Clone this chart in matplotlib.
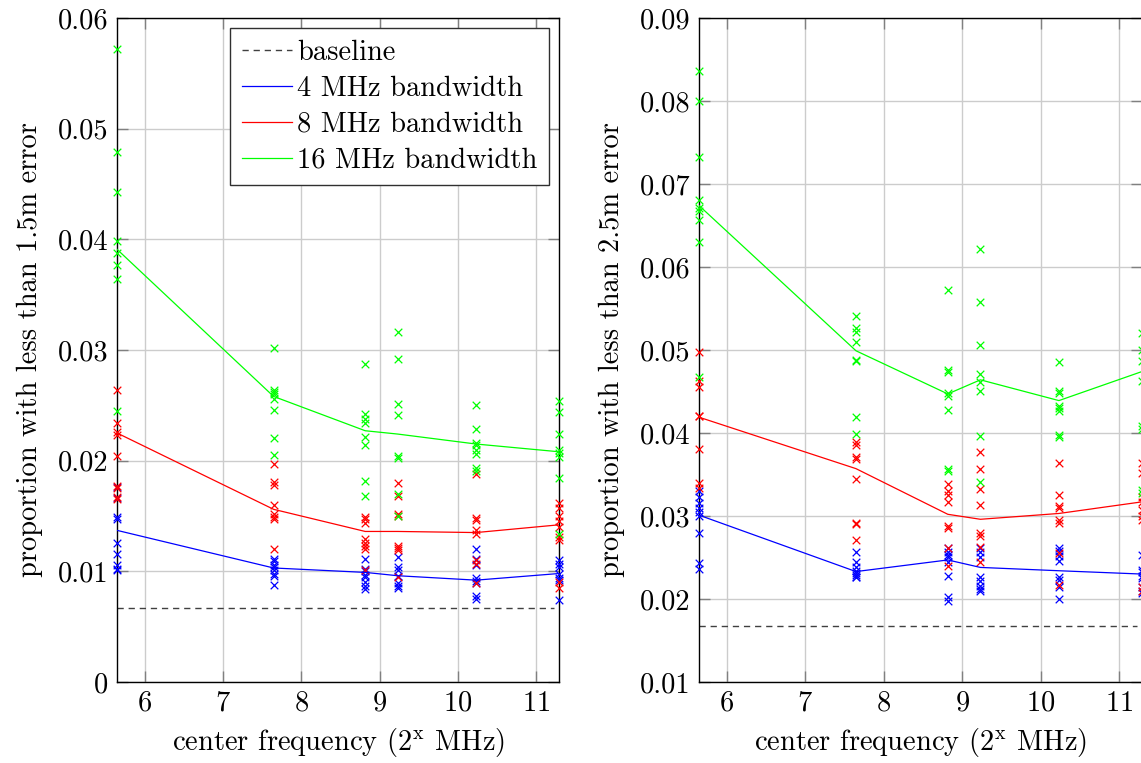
import matplotlib
matplotlib.use('Agg')
import matplotlib.pyplot as plt
import numpy as np

# ---------- fonts (Computer Modern look) ----------
plt.rcParams['font.family'] = 'cmr10'
plt.rcParams['mathtext.fontset'] = 'cm'
plt.rcParams['axes.formatter.use_mathtext'] = True

# ---------- data ----------
freqs_mhz = [50, 200, 450, 600, 1200, 2500]
x_pos = np.log2(freqs_mhz)
baseline_end = 11.23

# left panel: proportion with < 1.5 m error
base_15 = 0.0067
line_4_15 = [0.0137, 0.0103, 0.0099, 0.0096, 0.0092, 0.0098]
line_8_15 = [0.0225, 0.0156, 0.0136, 0.0136, 0.0135, 0.0142]
line_16_15 = [0.0391, 0.0258, 0.0227, 0.0224, 0.0215, 0.0208]
pts_4_15 = [
    [0.0176, 0.0166, 0.0149, 0.0147, 0.0126, 0.0116, 0.0106, 0.0102, 0.0101],
    [0.0111, 0.0109, 0.0106, 0.0104, 0.0101, 0.0098, 0.0096, 0.0088],
    [0.0111, 0.0102, 0.0100, 0.0097, 0.0095, 0.0090, 0.0087, 0.0084],
    [0.0113, 0.0104, 0.0101, 0.0096, 0.0089, 0.0087, 0.0085],
    [0.0120, 0.0111, 0.0106, 0.0094, 0.0091, 0.0089, 0.0078, 0.0075],
    [0.0110, 0.0107, 0.0104, 0.0098, 0.0094, 0.0092, 0.0074],
]
pts_8_15 = [
    [0.0264, 0.0234, 0.0226, 0.0223, 0.0204, 0.0177, 0.0175, 0.0167, 0.0165],
    [0.0197, 0.0181, 0.0178, 0.0160, 0.0152, 0.0149, 0.0147, 0.0120],
    [0.0149, 0.0147, 0.0144, 0.0129, 0.0126, 0.0123, 0.0120, 0.0101],
    [0.0180, 0.0168, 0.0152, 0.0150, 0.0123, 0.0121, 0.0119, 0.0095],
    [0.0188, 0.0148, 0.0146, 0.0137, 0.0134, 0.0110, 0.0107, 0.0089],
    [0.0162, 0.0157, 0.0150, 0.0145, 0.0140, 0.0131, 0.0128, 0.0090, 0.0085],
]
pts_16_15 = [
    [0.0572, 0.0479, 0.0443, 0.0398, 0.0388, 0.0377, 0.0364, 0.0245],
    [0.0302, 0.0264, 0.0262, 0.0260, 0.0256, 0.0246, 0.0220, 0.0205],
    [0.0287, 0.0242, 0.0238, 0.0234, 0.0221, 0.0214, 0.0182, 0.0168],
    [0.0316, 0.0292, 0.0251, 0.0241, 0.0204, 0.0202, 0.0170, 0.0150],
    [0.0250, 0.0229, 0.0216, 0.0214, 0.0210, 0.0206, 0.0193, 0.0191],
    [0.0254, 0.0244, 0.0224, 0.0210, 0.0207, 0.0203, 0.0184, 0.0134],
]

# right panel: proportion with < 2.5 m error
base_25 = 0.0168
line_4_25 = [0.0301, 0.0233, 0.0247, 0.0238, 0.0234, 0.0230]
line_8_25 = [0.0419, 0.0357, 0.0302, 0.0296, 0.0303, 0.0317]
line_16_25 = [0.0674, 0.0499, 0.0447, 0.0464, 0.0439, 0.0474]
pts_4_25 = [
    [0.0330, 0.0323, 0.0316, 0.0310, 0.0305, 0.0300, 0.0279, 0.0243, 0.0236],
    [0.0257, 0.0245, 0.0238, 0.0234, 0.0231, 0.0229, 0.0227, 0.0226],
    [0.0261, 0.0257, 0.0253, 0.0250, 0.0245, 0.0228, 0.0202, 0.0197],
    [0.0262, 0.0257, 0.0251, 0.0227, 0.0222, 0.0216, 0.0212, 0.0210],
    [0.0262, 0.0258, 0.0252, 0.0246, 0.0227, 0.0223, 0.0214, 0.0200],
    [0.0253, 0.0235, 0.0232, 0.0228, 0.0225, 0.0215, 0.0209, 0.0207],
]
pts_8_25 = [
    [0.0497, 0.0463, 0.0455, 0.0421, 0.0420, 0.0381, 0.0340, 0.0334],
    [0.0389, 0.0386, 0.0371, 0.0369, 0.0345, 0.0292, 0.0290, 0.0271],
    [0.0339, 0.0330, 0.0325, 0.0317, 0.0288, 0.0286, 0.0262, 0.0240],
    [0.0377, 0.0356, 0.0332, 0.0313, 0.0280, 0.0276, 0.0263, 0.0245],
    [0.0364, 0.0325, 0.0312, 0.0310, 0.0295, 0.0291, 0.0255, 0.0217],
    [0.0364, 0.0352, 0.0323, 0.0317, 0.0307, 0.0300, 0.0295, 0.0214, 0.0210],
]
pts_16_25 = [
    [0.0836, 0.0800, 0.0733, 0.0681, 0.0671, 0.0667, 0.0656, 0.0630, 0.0467],
    [0.0541, 0.0526, 0.0522, 0.0510, 0.0488, 0.0487, 0.0419, 0.0399],
    [0.0572, 0.0476, 0.0474, 0.0448, 0.0444, 0.0428, 0.0356, 0.0354],
    [0.0622, 0.0558, 0.0506, 0.0471, 0.0461, 0.0451, 0.0396, 0.0341],
    [0.0486, 0.0451, 0.0448, 0.0433, 0.0430, 0.0426, 0.0397, 0.0395],
    [0.0521, 0.0500, 0.0487, 0.0463, 0.0408, 0.0405, 0.0331, 0.0328],
]

x_ticks = [6, 7, 8, 9, 10, 11]
yticks_15 = [0, 0.01, 0.02, 0.03, 0.04, 0.05, 0.06]
ylabels_15 = ['0', '0.01', '0.02', '0.03', '0.04', '0.05', '0.06']
yticks_25 = [0.01, 0.02, 0.03, 0.04, 0.05, 0.06, 0.07, 0.08, 0.09]
ylabels_25 = ['0.01', '0.02', '0.03', '0.04', '0.05', '0.06', '0.07', '0.08', '0.09']

BLUE, RED, GREEN = '#0000ff', '#ff0000', '#00ff00'
FS = 20.5


def draw_panel(ax, base, lines, pts, yticks, ylabels, ylabel, legend=False):
    ax.plot([x_pos[0], baseline_end], [base, base], color='#404040',
            linestyle=(0, (4.5, 3.5)), linewidth=1.0, label='baseline', zorder=2)
    names = ['4 MHz bandwidth', '8 MHz bandwidth', '16 MHz bandwidth']
    for vals, samples, col, name in zip(lines, pts, [BLUE, RED, GREEN], names):
        for xi, ys in zip(x_pos, samples):
            ax.scatter([xi] * len(ys), ys, marker='x', color=col, s=30,
                       linewidths=0.9, zorder=3, clip_on=False)
        ax.plot(x_pos, vals, color=col, linewidth=0.9, label=name, zorder=4)

    ax.set_xlim(x_pos[0], x_pos[-1])
    ax.set_ylim(yticks[0], yticks[-1])
    ax.set_xticks(x_ticks)
    ax.set_yticks(yticks)
    ax.set_yticklabels(ylabels)
    ax.grid(True, color='#cccccc', linewidth=1.0, zorder=0)
    ax.set_axisbelow(True)
    ax.tick_params(direction='in', length=8, width=1.0, color='#808080',
                   top=True, right=True, labelsize=FS, pad=6)
    for sp in ax.spines.values():
        sp.set_linewidth(1.0)
        sp.set_color('black')
    ax.set_xlabel('center frequency (2$^{\\mathrm{x}}$ MHz)', fontsize=FS, labelpad=7)
    ax.set_ylabel(ylabel, fontsize=FS, labelpad=11)
    if legend:
        leg = ax.legend(loc='upper right', fontsize=FS, frameon=True, fancybox=False,
                        edgecolor='#303030', framealpha=1.0, handlelength=1.75,
                        borderaxespad=0.35, labelspacing=0.34, handletextpad=0.2,
                        borderpad=0.4)
        leg.get_frame().set_linewidth(1.0)


fig = plt.figure(figsize=(11.41, 7.63), dpi=100)
ax1 = fig.add_axes([0.1025, 0.1062, 0.3874, 0.8703])
ax2 = fig.add_axes([0.6126, 0.1062, 0.3883, 0.8703])

draw_panel(ax1, base_15, [line_4_15, line_8_15, line_16_15],
           [pts_4_15, pts_8_15, pts_16_15], yticks_15, ylabels_15,
           'proportion with less than 1.5m error', legend=True)
draw_panel(ax2, base_25, [line_4_25, line_8_25, line_16_25],
           [pts_4_25, pts_8_25, pts_16_25], yticks_25, ylabels_25,
           'proportion with less than 2.5m error')

fig.savefig('out.png', dpi=100, facecolor='white')
